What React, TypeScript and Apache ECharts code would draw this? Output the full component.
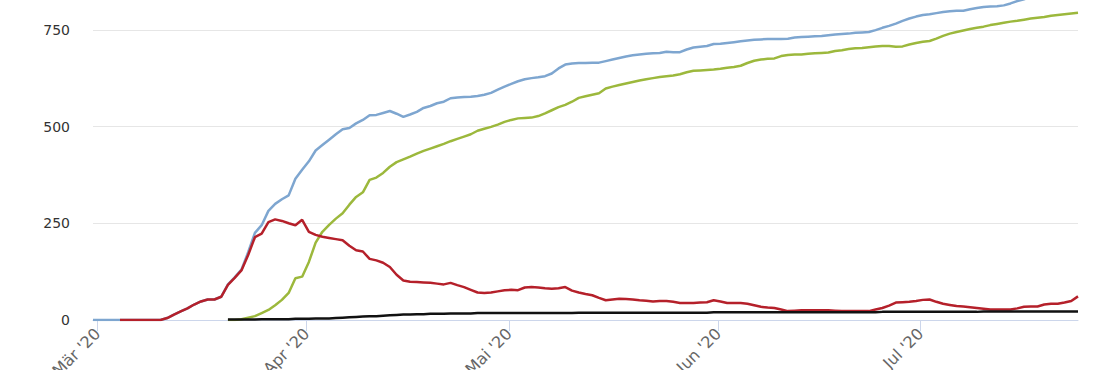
import React, { useEffect, useRef } from "react";
import * as echarts from "echarts";

// first data point: 29 Feb 2020 (day index 0)
const startDate = Date.UTC(2020, 1, 29, 8);
const DAY = 86400000;
const dayCount = 147;

const monthNames = ["Jan", "Feb", "Mär", "Apr", "Mai", "Jun", "Jul", "Aug", "Sep", "Okt", "Nov", "Dez"];
const yTickValues = [0, 250, 500, 750, 1000];
const yVisibleMax = 750;

// confirmed cases (from 29 Feb)
const blueStart = 0;
const blueValues = [
  0, 0, 0, 0, 0, 0, 0, 0, 0, 0, 0,
  5, 14, 22, 30, 40, 48, 53, 53, 60, 92,
  110, 130, 175, 225, 245, 282, 300, 312, 322, 365,
  388, 410, 438, 452, 466, 480, 493, 496, 508, 517,
  529, 530, 535, 540, 533, 525, 531, 538, 548, 553,
  560, 564, 573, 575, 576, 577, 579, 582, 587, 595,
  603, 610, 617, 622, 625, 627, 630, 637, 650, 660,
  663, 664, 664, 665, 665, 669, 673, 677, 681, 684,
  686, 688, 689, 690, 693, 692, 692, 699, 704, 706,
  708, 713, 714, 716, 718, 720, 722, 724, 725, 726,
  726, 726, 727, 730, 731, 732, 733, 734, 736, 738,
  739, 740, 742, 743, 744, 749, 755, 760, 766, 773,
  779, 784, 788, 790, 793, 796, 798, 799, 799, 803,
  806, 809, 810, 811, 813, 818, 824, 829, 834, 838,
  843, 847, 852, 857, 863, 870,
];

// recovered (from 20 Mar)
const greenStart = 20;
const greenValues = [
  0, 0, 2, 6, 10, 18, 26, 38, 52, 70,
  108, 112, 150, 200, 228, 246, 262, 276, 298, 318,
  330, 362, 368, 380, 396, 408, 415, 422, 430, 437,
  443, 449, 455, 462, 468, 474, 480, 489, 494, 499,
  505, 512, 517, 521, 522, 523, 527, 534, 542, 550,
  556, 564, 574, 578, 582, 586, 598, 603, 607, 611,
  615, 619, 622, 625, 628, 630, 632, 635, 640, 644,
  645, 646, 647, 649, 652, 654, 657, 664, 670, 673,
  675, 676, 682, 685, 686, 686, 688, 689, 690, 691,
  695, 697, 700, 702, 703, 705, 707, 708, 708, 706,
  707, 712, 716, 719, 721, 727, 734, 740, 744, 748,
  752, 755, 758, 762, 765, 768, 771, 773, 776, 779,
  781, 783, 786, 788, 790, 792, 794,
];

// active cases (from 4 Mar)
const redStart = 4;
const redValues = [
  0, 0, 0, 0, 0, 0, 0,
  5, 14, 22, 30, 40, 48, 53, 53, 60, 91,
  109, 128, 168, 214, 223, 253, 260, 256, 250, 245,
  259, 228, 220, 215, 212, 209, 206, 192, 180, 177,
  158, 154, 148, 137, 117, 102, 99, 98, 97, 96,
  94, 92, 96, 90, 85, 78, 71, 70, 71, 74,
  77, 78, 77, 84, 85, 84, 82, 81, 82, 85,
  76, 71, 67, 64, 57, 51, 53, 55, 54, 53,
  51, 50, 48, 49, 49, 47, 44, 44, 44, 45,
  46, 51, 48, 44, 44, 44, 42, 38, 34, 32,
  31, 27, 23, 24, 25, 25, 25, 25, 25, 24,
  23, 23, 23, 23, 23, 27, 31, 37, 45, 46,
  47, 49, 52, 53, 47, 42, 39, 36, 35, 33,
  31, 29, 27, 27, 27, 27, 30, 34, 35, 35,
  40, 42, 42, 45, 49, 61,
];

// deaths (from 20 Mar)
const blackStart = 20;
const blackValues = [
  1, 1, 1, 1, 1, 2, 2, 2, 2, 2,
  3, 3, 3, 4, 4, 4, 5, 6, 7, 8,
  9, 10, 10, 11, 12, 13, 14, 14, 15, 15,
  16, 16, 16, 17, 17, 17, 17, 18, 18, 18,
  18, 18, 18, 18, 18, 18, 18, 18, 18, 18,
  18, 18, 19, 19, 19, 19, 19, 19, 19, 19,
  19, 19, 19, 19, 19, 19, 19, 19, 19, 19,
  19, 19, 20, 20, 20, 20, 20, 20, 20, 20,
  20, 20, 20, 20, 20, 20, 20, 20, 20, 20,
  20, 20, 20, 20, 20, 20, 20, 21, 21, 21,
  21, 21, 21, 21, 21, 21, 21, 21, 21, 21,
  21, 21, 22, 22, 22, 22, 22, 22, 22, 22,
  22, 22, 22, 22, 22, 22, 22,
];

const dates: number[] = [];
for (let i = 0; i < dayCount; i++) dates.push(startDate + i * DAY);

const toPairs = (vals: number[], start: number) => vals.map((v, i) => [dates[start + i], v]);

export default function App() {
  const ref = useRef<HTMLDivElement>(null);
  useEffect(() => {
    if (!ref.current) return;
    const chart = echarts.init(ref.current, undefined, { renderer: "svg" });
    const font = "'DejaVu Sans', Verdana, sans-serif";
    const mkLine = (name: string, vals: number[], start: number, color: string, width: number) => ({
      name,
      type: "line",
      data: toPairs(vals, start),
      showSymbol: false,
      symbol: "none",
      lineStyle: { color, width },
      itemStyle: { color },
      z: 2,
    });
    chart.setOption({
      animation: false,
      useUTC: true,
      backgroundColor: "#ffffff",
      grid: { left: 93, right: 32, top: 0, bottom: 50, containLabel: false, outerBoundsMode: "none" },
      xAxis: {
        type: "time",
        min: dates[0],
        max: dates[dates.length - 1],
        minInterval: 28 * DAY,
        maxInterval: 31 * DAY,
        axisLine: { show: true, lineStyle: { color: "#ccd6eb", width: 1 } },
        axisTick: { show: true, length: 11, lineStyle: { color: "#ccd6eb", width: 1 } },
        splitLine: { show: false },
        axisLabel: {
          rotate: 45,
          margin: 11,
          color: "#666666",
          fontSize: 16,
          fontFamily: font,
          formatter: (v: number) => {
            const d = new Date(v);
            return `${monthNames[d.getUTCMonth()]} '${String(d.getUTCFullYear()).slice(2)}`;
          },
        },
      },
      yAxis: {
        type: "value",
        min: yTickValues[0],
        max: yTickValues[yTickValues.length - 1],
        interval: 250,
        axisLine: { show: false },
        axisTick: { show: false },
        splitLine: { show: true, lineStyle: { color: "#e6e6e6", width: 1 } },
        axisLabel: {
          margin: 23,
          color: "#333333",
          fontSize: 14,
          fontFamily: font,
          formatter: (v: number) => (v > yVisibleMax ? "" : String(v)),
        },
      },
      series: [
        mkLine("Bestätigt", blueValues, blueStart, "#7ea6d0", 2.5),
        mkLine("Genesen", greenValues, greenStart, "#9cb83c", 2.5),
        mkLine("Aktiv", redValues, redStart, "#b5202a", 2.5),
        mkLine("Verstorben", blackValues, blackStart, "#111111", 2.5),
      ],
    });
    return () => chart.dispose();
  }, []);
  return (
    <div
      style={{ position: "fixed", left: 0, top: 0, width: 1110, height: 370, overflow: "hidden", background: "#fff" }}
    >
      <div ref={ref} style={{ position: "absolute", left: 0, top: -67, width: 1110, height: 437 }} />
    </div>
  );
}
